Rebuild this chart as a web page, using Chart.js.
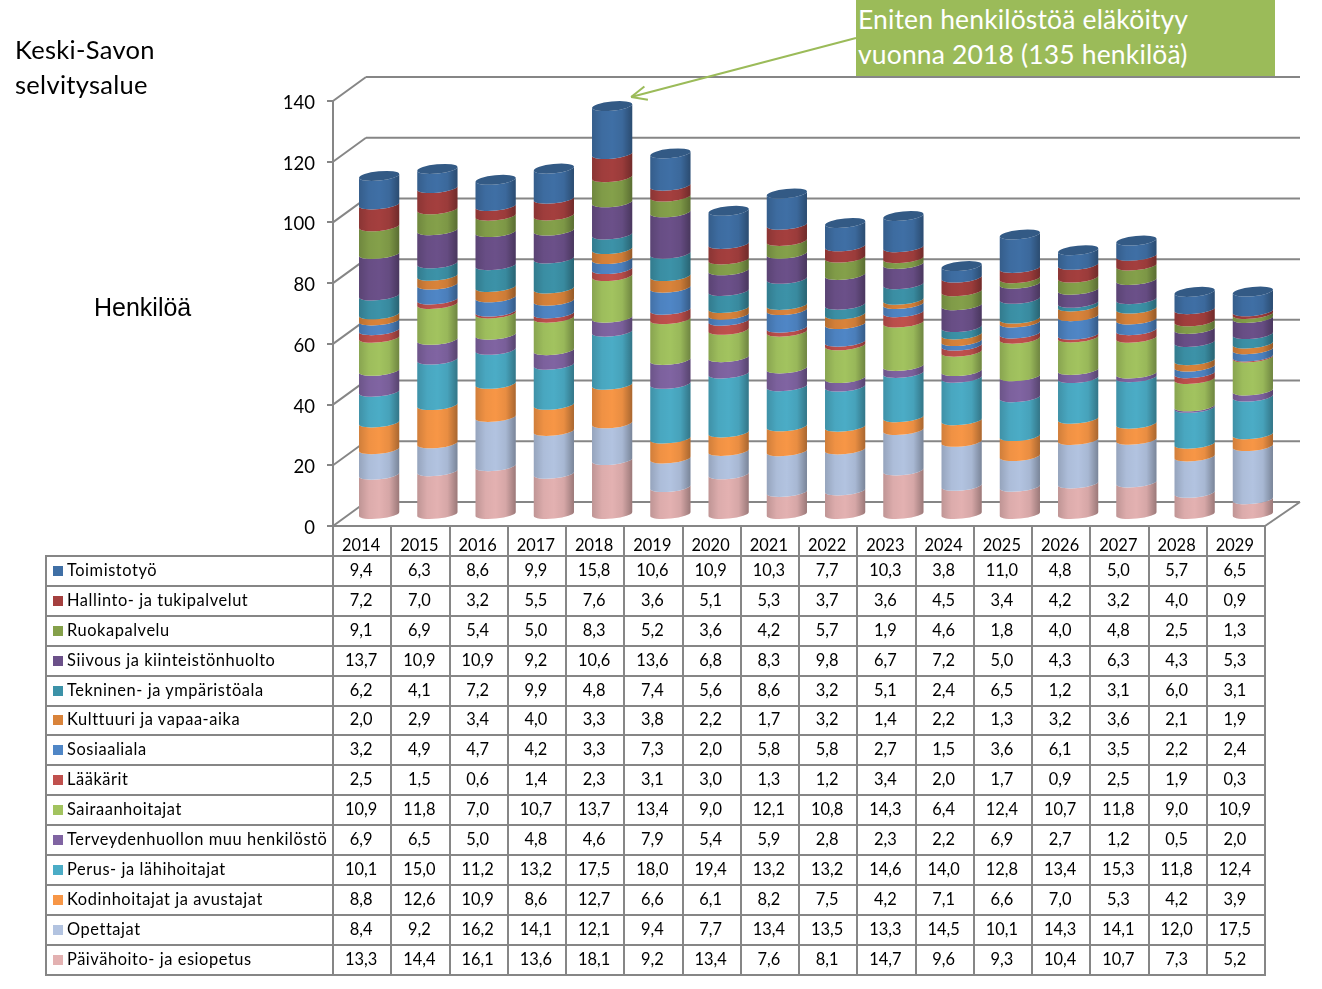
<!DOCTYPE html>
<html>
<head>
<meta charset="utf-8">
<title>Keski-Savon selvitysalue</title>
<script src="https://cdn.jsdelivr.net/npm/chart.js@4"></script>
<style>
    html, body { margin: 0; padding: 0; background: #fff; }
    #wrap { position: relative; width: 1322px; height: 989px; overflow: hidden; font-family: Lato, sans-serif; color: #000; }
    canvas { position: absolute; left: 0; top: 0; }
    .title { position: absolute; left: 15px; top: 32px; font-size: 25.5px; line-height: 35px; letter-spacing: 0.3px; }
    .ylabel { position: absolute; left: 94px; top: 293px; font: 25px "Liberation Sans", Arial, sans-serif; }
    .note { position: absolute; left: 856px; top: 0; width: 419px; height: 76px; background: #9BBB59; color: #fff;
            font-size: 26.5px; line-height: 35px; padding: 2px 0 0 2px; box-sizing: border-box; letter-spacing: 0.15px; }
    table { position: absolute; left: 45px; top: 525px; border-collapse: collapse; table-layout: fixed; width: 1219px; }
    td { border: 2px solid #868686; height: 29.93px; padding: 0 2px 3px 0; box-sizing: border-box; font-size: 16.4px; text-align: center; overflow: hidden; white-space: nowrap; }
    tr.head td { padding: 7px 2px 0 0; }
    td.name { text-align: left; padding-left: 6px; font-size: 16.4px; letter-spacing: 0.57px; }
    tr.head td.blank { border: none; border-right: 2px solid #868686; border-bottom: 2px solid #868686; }
    .swatch { display: inline-block; width: 10px; height: 10px; margin-right: 4px; }
</style>
</head>
<body>
<div id="wrap">
    <canvas id="chart" width="1322" height="989"></canvas>
    <div class="title">Keski-Savon<br>selvitysalue</div>
    <div class="ylabel">Henkilöä</div>
    <div class="note">Eniten henkilöstöä eläköityy<br>vuonna 2018 (135 henkilöä)</div>
    <table id="dataTable"></table>
</div>
<script>
// =========================
// DATA
// =========================
const years = ["2014","2015","2016","2017","2018","2019","2020","2021","2022","2023","2024","2025","2026","2027","2028","2029"];
const yTicks = [0, 20, 40, 60, 80, 100, 120, 140];

const toimisto  = [9.4,6.3,8.6,9.9,15.8,10.6,10.9,10.3,7.7,10.3,3.8,11.0,4.8,5.0,5.7,6.5];
const hallinto  = [7.2,7.0,3.2,5.5,7.6,3.6,5.1,5.3,3.7,3.6,4.5,3.4,4.2,3.2,4.0,0.9];
const ruoka     = [9.1,6.9,5.4,5.0,8.3,5.2,3.6,4.2,5.7,1.9,4.6,1.8,4.0,4.8,2.5,1.3];
const siivous   = [13.7,10.9,10.9,9.2,10.6,13.6,6.8,8.3,9.8,6.7,7.2,5.0,4.3,6.3,4.3,5.3];
const tekninen  = [6.2,4.1,7.2,9.9,4.8,7.4,5.6,8.6,3.2,5.1,2.4,6.5,1.2,3.1,6.0,3.1];
const kulttuuri = [2.0,2.9,3.4,4.0,3.3,3.8,2.2,1.7,3.2,1.4,2.2,1.3,3.2,3.6,2.1,1.9];
const sosiaali  = [3.2,4.9,4.7,4.2,3.3,7.3,2.0,5.8,5.8,2.7,1.5,3.6,6.1,3.5,2.2,2.4];
const laakarit  = [2.5,1.5,0.6,1.4,2.3,3.1,3.0,1.3,1.2,3.4,2.0,1.7,0.9,2.5,1.9,0.3];
const sairaan   = [10.9,11.8,7.0,10.7,13.7,13.4,9.0,12.1,10.8,14.3,6.4,12.4,10.7,11.8,9.0,10.9];
const terveys   = [6.9,6.5,5.0,4.8,4.6,7.9,5.4,5.9,2.8,2.3,2.2,6.9,2.7,1.2,0.5,2.0];
const perus     = [10.1,15.0,11.2,13.2,17.5,18.0,19.4,13.2,13.2,14.6,14.0,12.8,13.4,15.3,11.8,12.4];
const kodin     = [8.8,12.6,10.9,8.6,12.7,6.6,6.1,8.2,7.5,4.2,7.1,6.6,7.0,5.3,4.2,3.9];
const opettajat = [8.4,9.2,16.2,14.1,12.1,9.4,7.7,13.4,13.5,13.3,14.5,10.1,14.3,14.1,12.0,17.5];
const paivahoito = [13.3,14.4,16.1,13.6,18.1,9.2,13.4,7.6,8.1,14.7,9.6,9.3,10.4,10.7,7.3,5.2];

// top row of the table first, the bars stack from the last one up
const seriesRows = [
    { name: "Toimistotyö", color: "#3F6FA5", values: toimisto },
    { name: "Hallinto- ja tukipalvelut", color: "#A43F3E", values: hallinto },
    { name: "Ruokapalvelu", color: "#84A04A", values: ruoka },
    { name: "Siivous ja kiinteistönhuolto", color: "#6B5089", values: siivous },
    { name: "Tekninen- ja ympäristöala", color: "#3C92A8", values: tekninen },
    { name: "Kulttuuri ja vapaa-aika", color: "#D9833A", values: kulttuuri },
    { name: "Sosiaaliala", color: "#4F86C6", values: sosiaali },
    { name: "Lääkärit", color: "#C0504D", values: laakarit },
    { name: "Sairaanhoitajat", color: "#A2C35F", values: sairaan },
    { name: "Terveydenhuollon muu henkilöstö", color: "#8064A2", values: terveys },
    { name: "Perus- ja lähihoitajat", color: "#4BACC6", values: perus },
    { name: "Kodinhoitajat ja avustajat", color: "#F79646", values: kodin },
    { name: "Opettajat", color: "#B2C3E0", values: opettajat },
    { name: "Päivähoito- ja esiopetus", color: "#E3B1B1", values: paivahoito }
];

// =========================
// 3D LOOK
// =========================
const WALL_DX = 33, WALL_DY = 24;      // back wall offset
const BAR_DX = 17, BAR_DY = 11;        // bars stand halfway to the wall
const BAR_RX = 20.2, BAR_RY = 4.6, BAR_TILT = -0.1;
const GRID = "#868686";

function line(ctx, x1, y1, x2, y2) {
    ctx.beginPath();
    ctx.moveTo(x1, y1);
    ctx.lineTo(x2, y2);
    ctx.stroke();
}

function drawWalls(chart) {
    const ctx = chart.ctx, y = chart.scales.y, a = chart.chartArea;
    ctx.save();
    ctx.strokeStyle = GRID;
    ctx.lineWidth = 2;
    yTicks.forEach(t => {
        const py = y.getPixelForValue(t);
        line(ctx, a.left, py, a.left + WALL_DX, py - WALL_DY);
        line(ctx, a.left + WALL_DX, py - WALL_DY, a.right + WALL_DX + 2, py - WALL_DY);
    });
    // floor right side
    line(ctx, a.right, a.bottom, a.right + WALL_DX + 2, a.bottom - WALL_DY);
    ctx.restore();
}

function drawSegment(ctx, cx, top, bottom, color) {
    const path = new Path2D();
    path.ellipse(cx, top, BAR_RX, BAR_RY, BAR_TILT, 0, Math.PI);
    path.ellipse(cx, bottom, BAR_RX, BAR_RY, BAR_TILT, Math.PI, 0, true);
    path.closePath();
    ctx.fillStyle = color;
    ctx.fill(path);
    const shade = ctx.createLinearGradient(cx - BAR_RX, 0, cx + BAR_RX, 0);
    shade.addColorStop(0, "rgba(0,0,0,0.16)");
    shade.addColorStop(0.25, "rgba(0,0,0,0.03)");
    shade.addColorStop(0.5, "rgba(0,0,0,0)");
    shade.addColorStop(0.75, "rgba(0,0,0,0.06)");
    shade.addColorStop(1, "rgba(0,0,0,0.32)");
    ctx.fillStyle = shade;
    ctx.fill(path);
}

const cylinders = {
    id: "cylinders",
    beforeDatasetsDraw(chart) {
        const ctx = chart.ctx;
        drawWalls(chart);
        ctx.save();
        years.forEach((year, i) => {
            let last = null;
            chart.data.datasets.forEach((ds, d) => {
                const el = chart.getDatasetMeta(d).data[i];
                drawSegment(ctx, el.x + BAR_DX, el.y - BAR_DY, el.base - BAR_DY, ds.backgroundColor);
                last = el;
            });
            // lid
            ctx.beginPath();
            ctx.ellipse(last.x + BAR_DX, last.y - BAR_DY, BAR_RX, BAR_RY, BAR_TILT, 0, Math.PI * 2);
            ctx.fillStyle = "#335A85";
            ctx.fill();
        });
        ctx.restore();
        return false; // the cylinders replace the flat bars
    },
    afterDraw(chart) {
        // arrow from the note to the top of 2018
        const ctx = chart.ctx;
        const el = chart.getDatasetMeta(chart.data.datasets.length - 1).data[years.indexOf("2018")];
        const tipX = el.x + BAR_DX + 19, tipY = el.y - BAR_DY - 9;
        const fromX = 856, fromY = 38;
        const ang = Math.atan2(fromY - tipY, fromX - tipX);
        ctx.save();
        ctx.strokeStyle = "#9BBB59";
        ctx.lineWidth = 2;
        line(ctx, fromX, fromY, tipX, tipY);
        [-0.42, 0.42].forEach(s => {
            line(ctx, tipX, tipY, tipX + 17 * Math.cos(ang + s), tipY + 17 * Math.sin(ang + s));
        });
        ctx.restore();
    }
};

// =========================
// CHART
// =========================
new Chart(document.getElementById("chart"), {
    type: "bar",
    data: {
        labels: years,
        datasets: seriesRows.slice().reverse().map(s => ({
            label: s.name,
            data: s.values,
            backgroundColor: s.color,
            barThickness: 40
        }))
    },
    options: {
        responsive: false,
        animation: false,
        layout: { padding: { left: 0, top: 101, right: 57, bottom: 463 } },
        plugins: { legend: { display: false }, tooltip: { enabled: false } },
        scales: {
            x: { stacked: true, display: false },
            y: {
                stacked: true,
                min: 0,
                max: 140,
                afterFit(scale) { scale.width = 333; },
                ticks: { stepSize: 20, color: "#000", padding: 12, labelOffset: 2, font: { family: "Lato", size: 18.5 } },
                grid: { drawOnChartArea: false, color: GRID, lineWidth: 2, tickLength: 6 },
                border: { color: GRID, width: 2 }
            }
        }
    },
    plugins: [cylinders]
});

// =========================
// DATA TABLE
// =========================
const fmt = v => v.toFixed(1).replace(".", ",");
let html = `<colgroup><col style="width:287px">${years.map(() => '<col style="width:58.25px">').join("")}</colgroup>`;
html += `<tr class="head"><td class="blank"></td>${years.map(y => `<td>${y}</td>`).join("")}</tr>`;
seriesRows.forEach(s => {
    html += `<tr><td class="name"><span class="swatch" style="background:${s.color}"></span>${s.name}</td>`;
    html += s.values.map(v => `<td>${fmt(v)}</td>`).join("") + "</tr>";
});
document.getElementById("dataTable").innerHTML = html;
</script>
</body>
</html>
